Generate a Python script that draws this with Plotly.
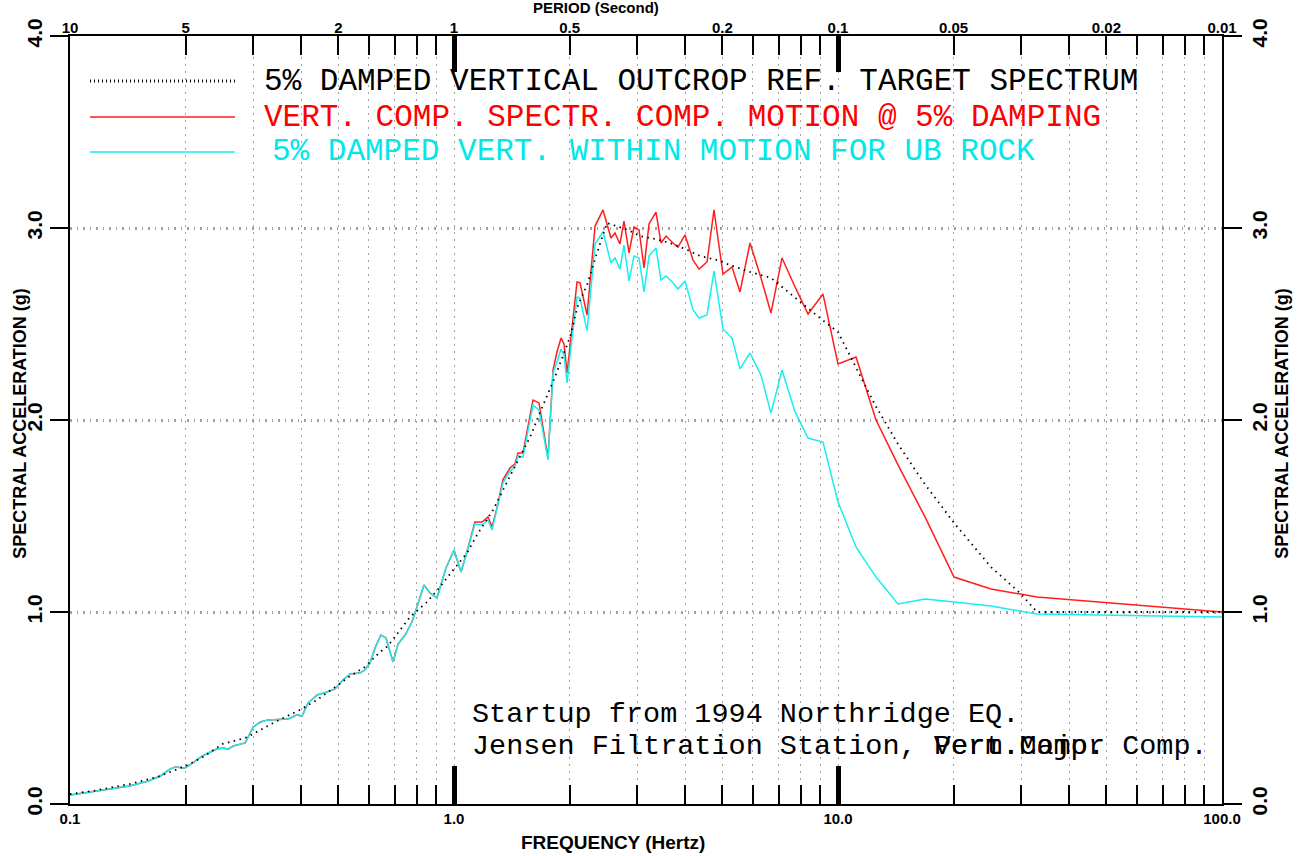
import plotly.graph_objects as go

# frequency (Hz) shared by the two computed spectra
freq = [0.100, 0.127, 0.143, 0.160, 0.172, 0.182, 0.188, 0.199, 0.209, 0.221,
        0.241, 0.250, 0.258, 0.266, 0.286, 0.300, 0.313, 0.328, 0.370, 0.390,
        0.402, 0.417, 0.440, 0.467, 0.490, 0.514, 0.536, 0.569, 0.586, 0.604,
        0.623, 0.645, 0.665, 0.694, 0.715, 0.746, 0.777, 0.801, 0.835, 0.866,
        0.903, 0.919, 0.953, 1.000, 1.018, 1.043, 1.075, 1.114, 1.134, 1.183,
        1.226, 1.256, 1.294, 1.341, 1.399, 1.441, 1.468, 1.512, 1.606, 1.665,
        1.757, 1.811, 1.854, 1.900, 1.934, 1.970, 2.017, 2.091, 2.129, 2.221,
        2.330, 2.443, 2.563, 2.626, 2.705, 2.771, 2.856, 2.943, 3.033, 3.125,
        3.220, 3.357, 3.460, 3.566, 3.718, 3.831, 3.996, 4.193, 4.347, 4.560,
        4.754, 5.017, 5.297, 5.557, 5.900, 6.301, 6.690, 7.148, 7.730, 8.355,
        9.140, 10.00, 11.14, 12.56, 14.33, 16.85, 20.05, 25.03, 32.98, 100.0]

# spectrally compatible motion (red)
sa_comp = [0.047, 0.078, 0.094, 0.120, 0.146, 0.182, 0.193, 0.188, 0.214, 0.250,
           0.286, 0.292, 0.286, 0.302, 0.318, 0.401, 0.427, 0.438, 0.443, 0.464,
           0.458, 0.526, 0.568, 0.583, 0.599, 0.646, 0.677, 0.682, 0.698, 0.734,
           0.813, 0.880, 0.865, 0.740, 0.833, 0.880, 0.948, 1.026, 1.141, 1.099,
           1.073, 1.125, 1.229, 1.323, 1.276, 1.208, 1.297, 1.411, 1.469, 1.469,
           1.495, 1.443, 1.542, 1.688, 1.750, 1.771, 1.828, 1.828, 2.104, 2.089,
           1.802, 2.260, 2.354, 2.427, 2.396, 2.245, 2.427, 2.719, 2.714, 2.547,
           3.010, 3.094, 2.948, 2.974, 2.917, 3.036, 2.870, 3.005, 2.990, 2.792,
           3.021, 3.083, 2.922, 2.958, 2.922, 2.901, 2.964, 2.833, 2.786, 2.823,
           3.094, 2.760, 2.797, 2.667, 2.922, 2.740, 2.557, 2.844, 2.693, 2.552,
           2.656, 2.292, 2.328, 2.000, 1.766, 1.495, 1.182, 1.120, 1.078, 1.000]

# within motion for UB rock (cyan)
sa_within = [0.047, 0.078, 0.094, 0.120, 0.146, 0.182, 0.193, 0.188, 0.214, 0.250,
             0.286, 0.292, 0.286, 0.302, 0.318, 0.401, 0.427, 0.438, 0.443, 0.464,
             0.458, 0.526, 0.568, 0.583, 0.599, 0.646, 0.677, 0.682, 0.698, 0.734,
             0.813, 0.880, 0.865, 0.740, 0.833, 0.880, 0.948, 1.026, 1.141, 1.099,
             1.073, 1.125, 1.229, 1.323, 1.276, 1.208, 1.297, 1.411, 1.458, 1.453,
             1.479, 1.427, 1.536, 1.672, 1.734, 1.755, 1.813, 1.807, 2.078, 2.052,
             1.792, 2.245, 2.302, 2.370, 2.339, 2.193, 2.380, 2.641, 2.635, 2.464,
             2.917, 2.979, 2.818, 2.844, 2.786, 2.911, 2.724, 2.854, 2.844, 2.667,
             2.854, 2.896, 2.729, 2.750, 2.714, 2.682, 2.724, 2.573, 2.531, 2.547,
             2.776, 2.474, 2.427, 2.266, 2.349, 2.234, 2.036, 2.260, 2.042, 1.906,
             1.885, 1.573, 1.339, 1.182, 1.042, 1.068, 1.052, 1.031, 0.990, 0.974]

# target spectrum (black dotted)
freq_target = [0.100, 0.115, 0.143, 0.169, 0.200, 0.222, 0.250, 0.286, 0.313, 0.338,
               0.397, 0.440, 0.499, 0.532, 0.586, 0.642, 0.673, 0.715, 0.768, 0.851,
               0.919, 1.000, 1.081, 1.155, 1.264, 1.425, 1.578, 1.665, 1.757, 1.832,
               2.005, 2.104, 2.221, 2.288, 2.357, 2.503, 2.673, 2.838, 3.050, 3.337,
               3.652, 3.996, 4.373, 4.842, 5.234, 5.900, 6.690, 7.193, 7.962, 8.977,
               10.00, 11.21, 12.49, 14.33, 16.75, 20.05, 25.03, 29.79, 32.98, 100.0]
sa_target = [0.052, 0.068, 0.104, 0.141, 0.198, 0.245, 0.313, 0.344, 0.385, 0.422,
             0.490, 0.542, 0.620, 0.661, 0.714, 0.792, 0.823, 0.891, 0.974, 1.052,
             1.130, 1.224, 1.307, 1.411, 1.531, 1.740, 1.911, 2.026, 2.141, 2.224,
             2.432, 2.599, 2.703, 2.792, 2.870, 3.026, 3.005, 2.990, 2.958, 2.943,
             2.922, 2.891, 2.854, 2.833, 2.807, 2.771, 2.740, 2.688, 2.615, 2.531,
             2.458, 2.260, 2.078, 1.875, 1.672, 1.464, 1.234, 1.099, 1.000, 1.000]

x_major = [0.1, 1, 10, 100]
x_major_text = ["0.1", "1.0", "10.0", "100.0"]
x_minor = [0.2, 0.3, 0.4, 0.5, 0.6, 0.7, 0.8, 0.9,
           2, 3, 4, 5, 6, 7, 8, 9,
           20, 30, 40, 50, 60, 70, 80, 90]
period_pos = [0.1, 0.2, 0.5, 1, 2, 5, 10, 20, 50, 100]
period_text = ["10", "5", "2", "1", "0.5", "0.2", "0.1", "0.05", "0.02", "0.01"]
y_ticks = [0, 1, 2, 3, 4]
y_text = ["0.0", "1.0", "2.0", "3.0", "4.0"]

legend_labels = ["5% DAMPED VERTICAL OUTCROP REF. TARGET SPECTRUM",
                 "VERT. COMP. SPECTR. COMP. MOTION @ 5% DAMPING",
                 "5% DAMPED VERT. WITHIN MOTION FOR UB ROCK"]
note_lines = ["Startup from 1994 Northridge EQ.",
              "Jensen Filtration Station, Vert.Comp."]
note_overlay = "Perm.Major Comp."
y_title = "SPECTRAL ACCELERATION (g)"

RED = "#ff1e1e"
CYAN = "#18eeee"
GRID = "#a0a0a0"
AXFONT = dict(family="Liberation Sans, Arial, sans-serif", color="black", weight="bold")
MONO = "Liberation Mono, DejaVu Sans Mono, monospace"

fig = go.Figure()

fig.add_trace(go.Scatter(x=freq, y=sa_comp, mode="lines", xaxis="x", yaxis="y",
                         line=dict(color=RED, width=1.5), showlegend=False))
fig.add_trace(go.Scatter(x=freq, y=sa_within, mode="lines", xaxis="x2", yaxis="y",
                         line=dict(color=CYAN, width=1.5), showlegend=False))
fig.add_trace(go.Scatter(x=freq_target, y=sa_target, mode="lines", xaxis="x3", yaxis="y2",
                         line=dict(color="black", width=1.8, dash="1.5px,4.5px"),
                         showlegend=False))

top_vals = sorted(set(x_minor + period_pos))
top_text = [period_text[period_pos.index(v)] if v in period_pos else "" for v in top_vals]

log_range = [-1, 2]

fig.update_layout(
    width=1300, height=856,
    margin=dict(l=70, r=78, t=36, b=52),
    paper_bgcolor="white", plot_bgcolor="white",
    showlegend=False,
    xaxis=dict(
        type="log", range=log_range, side="bottom", anchor="y", automargin=False,
        showline=True, linewidth=2, linecolor="black", zeroline=False,
        tickmode="array", tickvals=x_major, ticktext=x_major_text,
        ticks="inside", ticklen=38, tickwidth=5, tickcolor="black",
        tickfont=dict(size=15, **AXFONT),
        showgrid=True, gridcolor=GRID, gridwidth=1.3, griddash="2px,5px",
        minor=dict(tickmode="array", tickvals=x_minor, ticks="inside", ticklen=19,
                   tickwidth=1.5, tickcolor="black", showgrid=True,
                   gridcolor=GRID, gridwidth=1.3, griddash="2px,5px"),
    ),
    xaxis2=dict(
        type="log", range=log_range, side="top", anchor="y", overlaying="x",
        automargin=False,
        showline=True, linewidth=2, linecolor="black", zeroline=False,
        tickmode="array", tickvals=top_vals, ticktext=top_text,
        ticks="inside", ticklen=19, tickwidth=1.5, tickcolor="black",
        tickfont=dict(size=15, **AXFONT), showgrid=False, ticklabelstandoff=-5,
    ),
    xaxis3=dict(
        type="log", range=log_range, side="top", anchor="y", overlaying="x",
        automargin=False,
        showline=False, zeroline=False, showgrid=False, showticklabels=False,
        tickmode="array", tickvals=[1, 10],
        ticks="inside", ticklen=36, tickwidth=5, tickcolor="black",
    ),
    yaxis=dict(
        range=[0, 4], side="left", anchor="x", automargin=False,
        showline=True, linewidth=2, linecolor="black", zeroline=False,
        tickmode="array", tickvals=y_ticks, ticktext=y_text, tickangle=-90,
        ticks="outside", ticklen=18, tickwidth=2, tickcolor="black",
        tickfont=dict(size=21, **AXFONT),
        showgrid=True, gridcolor=GRID, gridwidth=3, griddash="1.5px,5px",
    ),
    yaxis2=dict(
        range=[0, 4], side="right", anchor="x", overlaying="y", automargin=False,
        showline=True, linewidth=2, linecolor="black", zeroline=False,
        tickmode="array", tickvals=y_ticks, ticktext=y_text, tickangle=-90,
        ticks="outside", ticklen=18, tickwidth=2, tickcolor="black",
        tickfont=dict(size=21, **AXFONT), showgrid=False,
    ),
)

# axis titles
fig.add_annotation(text="FREQUENCY (Hertz)", xref="paper", yref="paper",
                   x=0.4714, y=-0.0495, xanchor="center", yanchor="middle",
                   showarrow=False, font=dict(size=19, **AXFONT))
fig.add_annotation(text="PERIOD (Second)", xref="paper", yref="paper",
                   x=0.4566, y=1.0365, xanchor="center", yanchor="middle",
                   showarrow=False, font=dict(size=15, **AXFONT))
for tx in (-0.0434, 1.0521):
    fig.add_annotation(text=y_title, xref="paper", yref="paper", x=tx, y=0.495,
                       xanchor="center", yanchor="middle", textangle=-90,
                       showarrow=False, font=dict(size=18, **AXFONT))

# legend block
legend_y = [0.9414, 0.8945, 0.8490]
legend_x = [0.1667, 0.1667, 0.1736]
legend_colors = ["black", "#ff0000", "#00e8e8"]
sample_styles = [dict(color="black", width=3, dash="1px,3px"),
                 dict(color=RED, width=1.5),
                 dict(color=CYAN, width=1.5)]
for label, ly, lx, col, sty in zip(legend_labels, legend_y, legend_x, legend_colors, sample_styles):
    fig.add_shape(type="line", xref="paper", yref="paper",
                  x0=0.0174, x1=0.1432, y0=ly, y1=ly, line=sty)
    fig.add_annotation(text=label, xref="paper", yref="paper", x=lx, y=ly,
                       xanchor="left", yanchor="middle", showarrow=False,
                       font=dict(family=MONO, size=31, color=col))

# station note (the second line is overprinted in the original)
note_y = [0.1159, 0.0755]
for line, ny in zip(note_lines, note_y):
    fig.add_annotation(text=line, xref="paper", yref="paper", x=0.3472, y=ny,
                       xanchor="left", yanchor="middle", showarrow=False,
                       font=dict(family=MONO, size=28.5, color="black"))
fig.add_annotation(text=note_overlay, xref="paper", yref="paper", x=0.748, y=note_y[1],
                   xanchor="left", yanchor="middle", showarrow=False,
                   font=dict(family=MONO, size=28.5, color="black"))

# page body has a default 8px margin; drop it so the figure sits at the window origin
fig.write_html("out.html", config={"displayModeBar": False},
               post_script="document.body.style.margin='0';")
